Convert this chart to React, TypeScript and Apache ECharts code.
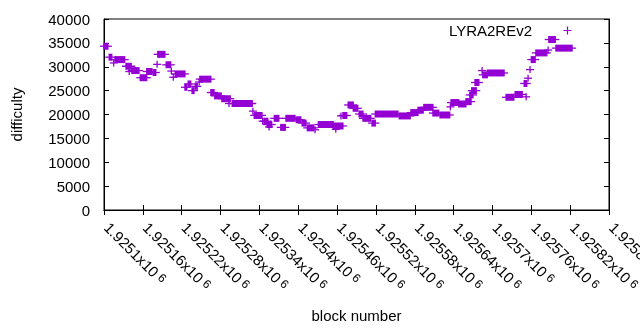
import React, { useEffect, useRef } from "react";
import * as echarts from "echarts";

// Runs of consecutive blocks sharing one difficulty reading (block numbers)
const runStartBlock = [
  1925100, 1925108, 1925115, 1925117, 1925134, 1925139, 1925143, 1925156, 1925166, 1925176,
  1925182, 1925183, 1925196, 1925204, 1925207, 1925210, 1925225, 1925230, 1925236, 1925241,
  1925247, 1925248, 1925265, 1925271, 1925282, 1925293, 1925298, 1925330, 1925332, 1925345,
  1925347, 1925352, 1925355, 1925363, 1925373, 1925381, 1925397, 1925406, 1925414, 1925426,
  1925431, 1925454, 1925458, 1925466, 1925469, 1925477, 1925485, 1925494, 1925500, 1925514,
  1925519, 1925556, 1925574, 1925585, 1925594, 1925608, 1925619, 1925635, 1925636, 1925648,
  1925659, 1925665, 1925668, 1925673, 1925684, 1925685, 1925692, 1925721, 1925735, 1925752,
  1925749, 1925755, 1925758, 1925760, 1925767, 1925786, 1925787, 1925798,
];
const runEndBlock = [
  1925106, 1925112, 1925115, 1925132, 1925142, 1925139, 1925154, 1925166, 1925174, 1925180,
  1925182, 1925194, 1925203, 1925204, 1925207, 1925225, 1925228, 1925234, 1925239, 1925244,
  1925247, 1925265, 1925270, 1925281, 1925295, 1925293, 1925329, 1925330, 1925344, 1925345,
  1925353, 1925359, 1925355, 1925370, 1925380, 1925395, 1925404, 1925412, 1925424, 1925426,
  1925454, 1925469, 1925458, 1925466, 1925475, 1925485, 1925492, 1925500, 1925512, 1925519,
  1925554, 1925573, 1925585, 1925593, 1925608, 1925617, 1925634, 1925635, 1925648, 1925659,
  1925667, 1925670, 1925675, 1925679, 1925684, 1925692, 1925718, 1925733, 1925746, 1925752,
  1925753, 1925755, 1925758, 1925766, 1925784, 1925786, 1925797, 1925823,
];
const runDifficulty = [
  34300, 32000, 30800, 31500, 30100, 29000, 29200, 27700, 29000, 28800,
  30500, 32600, 30400, 29100, 27800, 28500, 25700, 26400, 25000, 25900,
  26800, 27400, 24600, 23900, 23300, 22300, 22300, 20700, 19800, 18600,
  18600, 17900, 17400, 19200, 17300, 19200, 18900, 18200, 17200, 16800,
  17900, 17600, 16900, 19700, 19800, 22000, 21300, 20100, 19200, 18200,
  20100, 19700, 20400, 20900, 21500, 20300, 19900, 21600, 22500, 22200,
  22700, 24100, 25000, 26700, 29200, 28300, 28700, 23600, 24200, 23700,
  26500, 27600, 29400, 31500, 32900, 33500, 35700, 33900,
];

const xMin = 1925100;
const xMax = 1925880;
const xStep = 60;
const yMin = 0;
const yMax = 40000;
const yStep = 5000;
const seriesName = "LYRA2REv2";

const COLOR = "#9400d3";
const FONT = "'Liberation Sans', Arial, sans-serif";

export default function App() {
  const ref = useRef<HTMLDivElement>(null);
  useEffect(() => {
    if (!ref.current) return;
    const chart = echarts.init(ref.current, undefined, { renderer: "svg" });
    const data = runStartBlock.map((s, i) => [s, runEndBlock[i], runDifficulty[i]]);
    const fmt = (v: number) => String(parseFloat((v / 1e6).toPrecision(6)));
    const tickStyle = { show: true, inside: true, length: 5, lineStyle: { color: "#000", width: 1 } };
    chart.setOption({
      animation: false,
      textStyle: { fontFamily: FONT, color: "#000" },
      grid: {
        left: 104, right: 31, top: 19, bottom: 120,
        outerBoundsMode: "none",
        containLabel: false,
        show: true, borderColor: "#000", borderWidth: 1, backgroundColor: "transparent",
      },
      legend: {
        data: [seriesName],
        right: 68.5,
        top: 23,
        padding: 0,
        align: "right",
        itemWidth: 34.5,
        itemHeight: 8,
        icon: "path://M0,3.97h0.05v0.05h-0.05z M29.9,0h1.2v3.4h3.4v1.2h-3.4v3.4h-1.2v-3.4h-3.4v-1.2h3.4z",
        textStyle: { fontSize: 15, fontFamily: FONT, color: "#000" },
      },
      xAxis: [
        {
          type: "value",
          min: xMin,
          max: xMax,
          interval: xStep,
          position: "bottom",
          name: "block number",
          nameLocation: "middle",
          nameGap: 98,
          nameTextStyle: { fontSize: 15, fontFamily: FONT, color: "#000" },
          splitLine: { show: false },
          axisLine: { show: true, lineStyle: { color: "#000" } },
          axisTick: tickStyle,
          axisLabel: {
            rotate: -45,
            margin: 12,
            padding: [0, 0, 0, 4],
            showMaxLabel: true,
            showMinLabel: true,
            hideOverlap: false,
            formatter: (v: number) => `{m|${fmt(v)}x10}{s| 6}`,
            rich: {
              m: { fontSize: 15, fontFamily: FONT, color: "#000" },
              s: { fontSize: 12, fontFamily: FONT, color: "#000", verticalAlign: "top" },
            },
          },
        },
        {
          type: "value",
          min: xMin,
          max: xMax,
          interval: xStep,
          position: "top",
          splitLine: { show: false },
          axisLine: { show: true, lineStyle: { color: "#000" } },
          axisTick: tickStyle,
          axisLabel: { show: false },
        },
      ],
      yAxis: [
        {
          type: "value",
          min: yMin,
          max: yMax,
          interval: yStep,
          position: "left",
          name: "difficulty",
          nameLocation: "middle",
          nameGap: 80,
          nameRotate: 90,
          nameTextStyle: { fontSize: 15, fontFamily: FONT, color: "#000" },
          splitLine: { show: false },
          axisLine: { show: true, lineStyle: { color: "#000" } },
          axisTick: tickStyle,
          axisLabel: { fontSize: 15, margin: 14, color: "#000", fontFamily: FONT, formatter: (v: number) => String(v) },
        },
        {
          type: "value",
          min: yMin,
          max: yMax,
          interval: yStep,
          position: "right",
          splitLine: { show: false },
          axisLine: { show: true, lineStyle: { color: "#000" } },
          axisTick: tickStyle,
          axisLabel: { show: false },
        },
      ],
      series: [
        {
          name: seriesName,
          type: "custom",
          xAxisIndex: 0,
          yAxisIndex: 0,
          itemStyle: { color: COLOR },
          encode: { x: [0, 1], y: 2 },
          data,
          renderItem: (_params: any, api: any) => {
            const y = api.value(2);
            const p0 = api.coord([api.value(0), y]);
            const p1 = api.coord([api.value(1), y]);
            const w = p1[0] - p0[0];
            return {
              type: "group",
              children: [
                { type: "rect", shape: { x: p0[0] - 0.65, y: p0[1] - 3.5, width: w + 1.3, height: 7 }, style: { fill: COLOR } },
                { type: "rect", shape: { x: p0[0] - 4, y: p0[1] - 0.65, width: w + 8, height: 1.3 }, style: { fill: COLOR } },
              ],
            };
          },
        },
      ],
    });
    return () => chart.dispose();
  }, []);
  return <div ref={ref} style={{ position: "fixed", left: 0, top: 0, width: 640, height: 330 }} />;
}
